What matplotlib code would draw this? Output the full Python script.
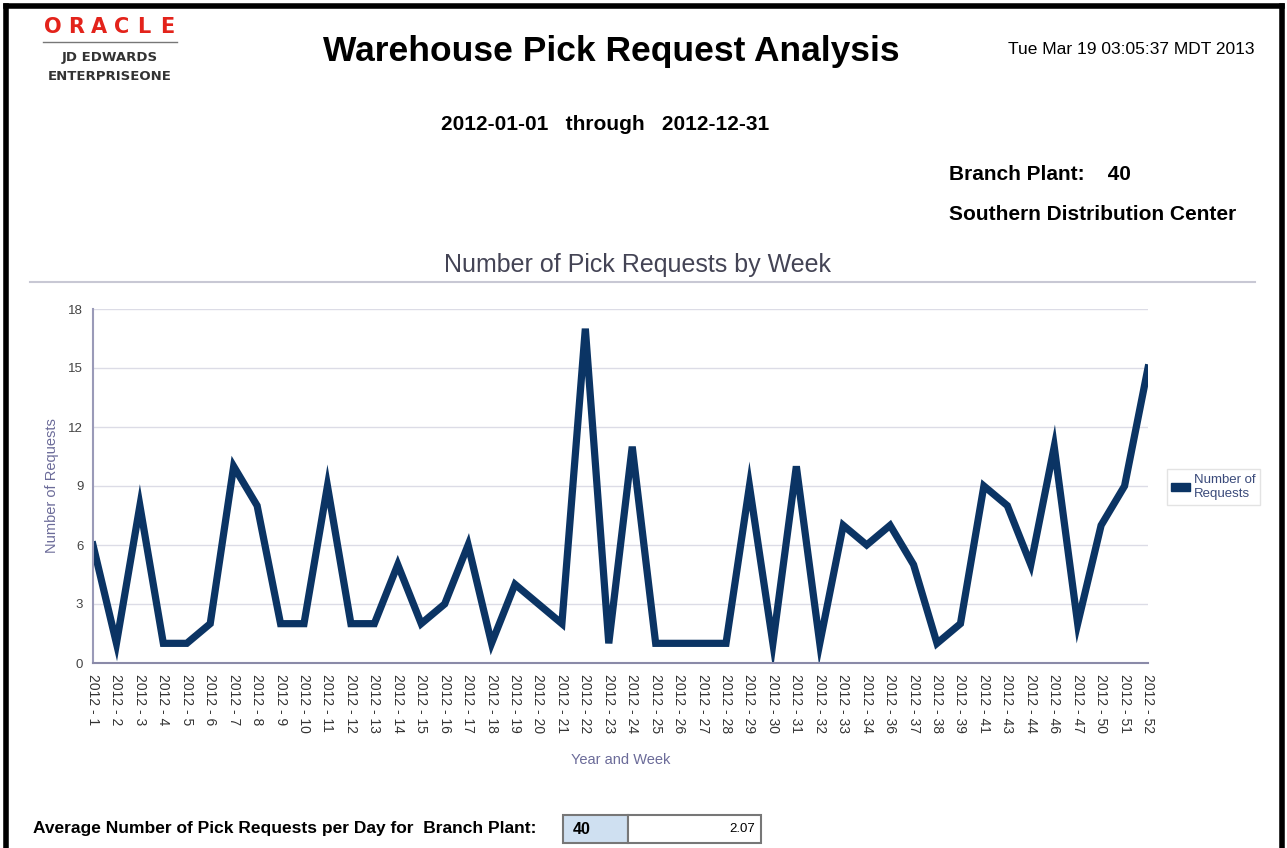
import numpy as np
import matplotlib
matplotlib.use("Agg")
import matplotlib.pyplot as plt
from matplotlib.lines import Line2D
from matplotlib.patches import Rectangle, Patch

plt.rcParams['font.family'] = ['Liberation Sans', 'DejaVu Sans']

# data
weeks = [1, 2, 3, 4, 5, 6, 7, 8, 9, 10, 11, 12, 13, 14, 15, 16, 17, 18, 19, 20,
         21, 22, 23, 24, 25, 26, 27, 28, 29, 30, 31, 32, 33, 34, 36, 37, 38, 39,
         41, 43, 44, 46, 47, 50, 51, 52]
requests = [6, 1, 8, 1, 1, 2, 10, 8, 2, 2, 9, 2, 2, 5, 2, 3, 6, 1, 4, 3,
            2, 17, 1, 11, 1, 1, 1, 1, 9, 1, 10, 1, 7, 6, 7, 5, 1, 2,
            9, 8, 5, 11, 2, 7, 9, 15]
year = 2012
week_labels = [f"{year} - {w}" for w in weeks]
y_ticks = [0, 3, 6, 9, 12, 15, 18]

report_title = "Warehouse Pick Request Analysis"
run_date = "Tue Mar 19 03:05:37 MDT 2013"
date_from, date_to = "2012-01-01", "2012-12-31"
branch_plant = "40"
branch_name = "Southern Distribution Center"
avg_per_day = 2.07

W, H = 1287, 848
fig = plt.figure(figsize=(W / 100, H / 100), dpi=100)


def px(x, y):
    return x / W, 1 - y / H


navy = '#0b3464'

# page frame
for xs, ys, lw in [((6, 6), (6, 848), 4), ((6, 1282), (6, 6), 4), ((1282, 1282), (6, 848), 4)]:
    fig.add_artist(Line2D([x / W for x in xs], [1 - y / H for y in ys],
                          color='black', lw=lw, transform=fig.transFigure))

# logo
logo_letters = "ORACLE"
lx = np.linspace(53, 167, len(logo_letters))
for ch, x in zip(logo_letters, lx):
    fig.text(*px(x, 27), ch, color='#e3231b', fontsize=15, family='DejaVu Sans',
             fontweight='bold', ha='center', va='center')
fig.add_artist(Line2D([43 / W, 177 / W], [1 - 42 / H] * 2, color='#777777', lw=1,
                      transform=fig.transFigure))
fig.text(*px(110, 58), "JD EDWARDS", fontsize=9.5, fontweight='bold', color='#333333',
         family='DejaVu Sans', ha='center', va='center')
fig.text(*px(110, 76), "ENTERPRISEONE", fontsize=9.5, fontweight='bold', color='#333333',
         family='DejaVu Sans', ha='center', va='center')

# header texts
fig.text(*px(611, 51), report_title, fontsize=25.5, fontweight='bold', ha='center', va='center')
fig.text(*px(1255, 50), run_date, fontsize=12.5, ha='right', va='center')
fig.text(*px(605, 125), f"{date_from}   through   {date_to}", fontsize=15, fontweight='bold',
         ha='center', va='center')
fig.text(*px(949, 174), f"Branch Plant:    {branch_plant}", fontsize=15, fontweight='bold',
         ha='left', va='center')
fig.text(*px(949, 215), branch_name, fontsize=15, fontweight='bold', ha='left', va='center')

# chart title
fig.text(*px(637, 265), "Number of Pick Requests by Week", fontsize=18, color='#444455',
         ha='center', va='center')
fig.add_artist(Line2D([30 / W, 1255 / W], [1 - 282 / H] * 2, color='#c8c8d4', lw=1.5,
                      transform=fig.transFigure))

# the chart
ax = fig.add_axes([93 / W, 1 - 663 / H, (1148 - 93) / W, (663 - 309) / H])
x = np.arange(len(weeks))
ax.plot(x, requests, color=navy, lw=5.2, solid_joinstyle='miter', clip_on=True)
ax.set_xlim(0, len(weeks) - 1)
ax.set_ylim(0, 18)
ax.set_yticks(y_ticks)
ax.set_xticks(x)
ax.set_xticklabels(week_labels, rotation=270, fontsize=10, color='#333333')
ax.tick_params(axis='y', labelsize=9.5, colors='#444444', length=0, pad=7)
ax.tick_params(axis='x', length=0, pad=8)
ax.grid(axis='y', color='#dcdce6', lw=1)
ax.set_axisbelow(True)
for s in ['top', 'right']:
    ax.spines[s].set_visible(False)
ax.spines['left'].set_color('#9a9ab8')
ax.spines['left'].set_linewidth(1.5)
ax.spines['bottom'].set_color('#8a8aa8')
ax.spines['bottom'].set_linewidth(1.5)
ax.set_ylabel("Number of Requests", fontsize=10.5, color='#6b6b99', labelpad=7)
ax.set_xlabel("Year and Week", fontsize=10.5, color='#6b6b99', labelpad=14)

fig.legend(handles=[Patch(color=navy, label='Number of\nRequests')],
           loc='center left', bbox_to_anchor=px(1160, 487), fontsize=9.5,
           labelcolor='#3a4a7a', frameon=True, edgecolor='#dddddd', fancybox=False,
           handlelength=1.4, handleheight=0.5, handletextpad=0.3, borderpad=0.35)

# footer summary
fig.text(*px(33, 828), "Average Number of Pick Requests per Day for  Branch Plant:",
         fontsize=12.5, fontweight='bold', ha='left', va='center')
fig.add_artist(Rectangle(px(563, 843), 65 / W, 28 / H, transform=fig.transFigure,
                         facecolor='#cfe0f1', edgecolor='#777777', lw=1.5))
fig.add_artist(Rectangle(px(628, 843), 133 / W, 28 / H, transform=fig.transFigure,
                         facecolor='white', edgecolor='#777777', lw=1.5))
fig.text(*px(573, 830), branch_plant, fontsize=11.5, fontweight='bold', ha='left', va='center')
fig.text(*px(755, 829), f"{avg_per_day:.2f}", fontsize=9.5, ha='right', va='center')

fig.savefig('out.png', dpi=100)
